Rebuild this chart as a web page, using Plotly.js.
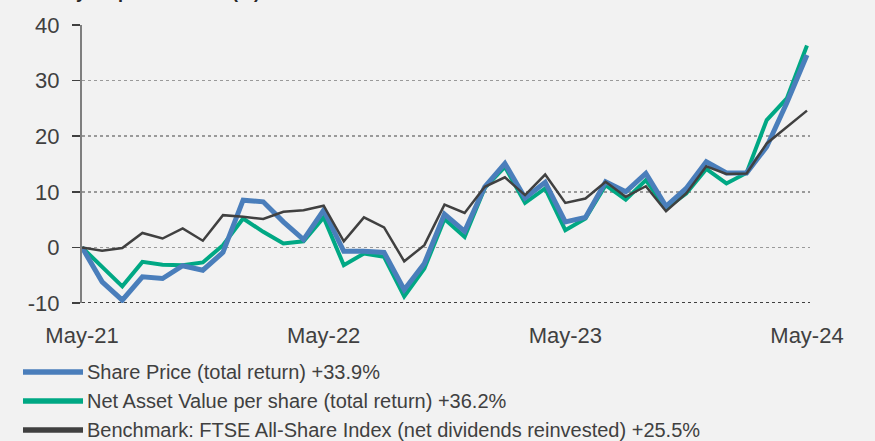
<!DOCTYPE html>
<html>
<head>
<meta charset="utf-8">
<script src="https://cdn.plot.ly/plotly-3.0.1.min.js"></script>
<style>html,body{margin:0;padding:0;background:#f2f2f2;}#chart{width:875px;height:441px;}</style>
</head>
<body>
<div id="chart"></div>
<script>
var months = ['May-21','Jun-21','Jul-21','Aug-21','Sep-21','Oct-21','Nov-21','Dec-21','Jan-22','Feb-22','Mar-22','Apr-22',
  'May-22','Jun-22','Jul-22','Aug-22','Sep-22','Oct-22','Nov-22','Dec-22','Jan-23','Feb-23','Mar-23','Apr-23',
  'May-23','Jun-23','Jul-23','Aug-23','Sep-23','Oct-23','Nov-23','Dec-23','Jan-24','Feb-24','Mar-24','Apr-24','May-24'];
var sharePrice = [0,-6.2,-9.5,-5.3,-5.6,-3.3,-4.1,-0.9,8.5,8.2,4.6,1.4,6.7,-0.7,-0.7,-0.9,-7.6,-2.9,6.0,2.9,10.9,15.1,8.9,11.7,4.6,5.4,11.8,10.0,13.3,7.4,10.6,15.4,13.4,13.4,18.1,26.0,34.6];
var nav = [0,-3.5,-7.0,-2.6,-3.1,-3.2,-2.7,0.4,5.2,2.8,0.7,1.1,5.4,-3.2,-1.1,-1.7,-8.8,-3.8,5.1,1.9,10.7,14.5,8.0,10.6,3.1,5.2,11.2,8.6,12.1,7.0,9.7,14.1,11.5,13.4,22.9,26.8,36.3];
var benchmark = [0,-0.6,-0.1,2.6,1.6,3.4,1.2,5.8,5.5,5.1,6.4,6.7,7.5,1.1,5.4,3.6,-2.5,0.4,7.7,6.2,10.9,12.6,9.4,13.1,8.0,8.8,11.8,9.1,11.0,6.5,9.7,14.6,13.2,13.3,18.7,21.7,24.6];
var seriesNames = ['Share Price (total return) +33.9%','Net Asset Value per share (total return) +36.2%','Benchmark: FTSE All-Share Index (net dividends reinvested) +25.5%'];
var seriesColors = ['#4a7ebb','#00a884','#404040'];
var xTicks = ['May-21','May-22','May-23','May-24'];
var yTicks = [-10,0,10,20,30,40];
var yTickLabels = ['-10','0','10','20','30','40'];
var chartTitle = 'Three year performance (%)';

var traces = [
  {x: months, y: nav, name: seriesNames[1], type:'scatter', mode:'lines', line:{color:seriesColors[1], width:4}},
  {x: months, y: sharePrice, name: seriesNames[0], type:'scatter', mode:'lines', line:{color:seriesColors[0], width:5}},
  {x: months, y: benchmark, name: seriesNames[2], type:'scatter', mode:'lines', line:{color:seriesColors[2], width:2.5}}
];

// Plot-area geometry (pixels) for placing the custom legend
var W = 875, H = 441, mL = 82, mR = 65, mT = 25, mB = 138;
var pw = W - mL - mR, ph = H - mT - mB;
function px2x(p) { return (p - mL) / pw; }
function py2y(p) { return (H - mB - p) / ph; }

var shapes = [{type:'line', xref:'paper', yref:'y', x0:0, x1:1, y0:-10, y1:-10, layer:'below',
    line:{color:'#404040', width:2, dash:'dot'}}];
var annotations = [{text:'<b>'+chartTitle+'</b>', xref:'paper', yref:'paper', x:px2x(20), xanchor:'left', y:py2y(-8), yanchor:'middle',
    showarrow:false, font:{size:18, color:'#262626', family:'Liberation Sans, Arial, sans-serif'}}];
var rowY = [372, 401, 430];
for (var i = 0; i < 3; i++) {
  shapes.push({type:'line', xref:'paper', yref:'paper', x0:px2x(23), x1:px2x(83), y0:py2y(rowY[i]), y1:py2y(rowY[i]),
    line:{color:seriesColors[i], width:5.5}});
  annotations.push({text: seriesNames[i], xref:'paper', yref:'paper', x:px2x(85), xanchor:'left', y:py2y(rowY[i]), yanchor:'middle',
    showarrow:false, font:{size:20, color:'#404040', family:'Liberation Sans, Arial, sans-serif'}});
}

var layout = {
  width: W, height: H,
  margin: {l:mL, r:mR, t:mT, b:mB, pad:0},
  paper_bgcolor:'#f2f2f2', plot_bgcolor:'#f2f2f2',
  font: {family:'Liberation Sans, Arial, sans-serif', color:'#404040'},
  showlegend: false,
  xaxis: {type:'category', range:[0, 36.15], tickvals: xTicks, ticktext: xTicks, showgrid:false, zeroline:false,
    showline:false, ticks:'', tickfont:{size:22, color:'#404040'}, ticklabelstandoff:17, fixedrange:true, automargin:false},
  yaxis: {range:[-10, 40], tickvals: yTicks, ticktext: yTickLabels, showgrid:true, gridcolor:'#9a9a9a', griddash:'dot', gridwidth:1.5,
    zeroline:false, showline:true, linecolor:'#7f7f7f', linewidth:2, ticks:'outside', ticklen:8, tickcolor:'#404040', tickwidth:1.5,
    tickfont:{size:22, color:'#404040'}, ticklabelstandoff:8, fixedrange:true, automargin:false},
  shapes: shapes,
  annotations: annotations
};
Plotly.newPlot('chart', traces, layout, {displayModeBar:false, staticPlot:true});
</script>
</body>
</html>
